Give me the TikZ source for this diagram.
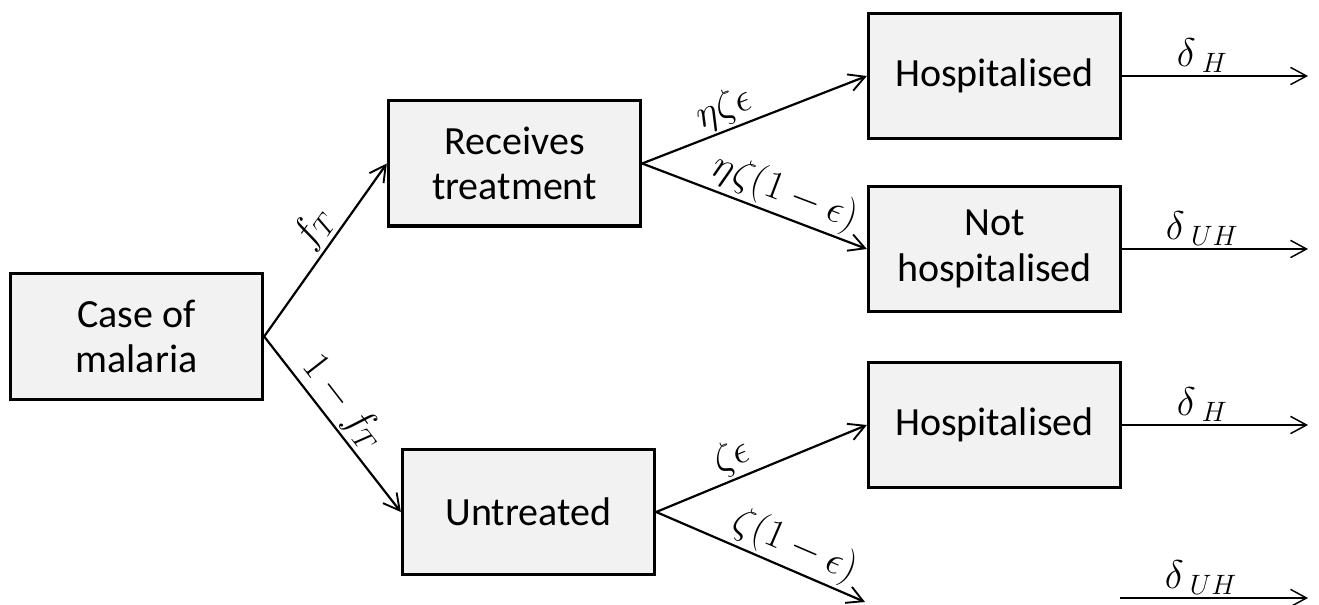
\RequirePackage{fix-cm}
\documentclass[tikz,border=0pt]{standalone}
\usepackage{fontspec}
\setmainfont{Carlito}
\usetikzlibrary{arrows.meta}
\begin{document}
\begin{tikzpicture}[x=0.75pt,y=-0.75pt,
  box/.style={draw=black, line width=2.5pt, fill=gray!10, minimum width=189pt, minimum height=94pt, align=center, inner sep=0pt, font=\fontsize{30}{34}\selectfont},
  conn/.style={line width=1.65pt, -{Straight Barb[length=12pt,width=13pt,line width=1.4pt]}},
  outa/.style={line width=1.1pt, -{Straight Barb[length=12pt,width=13pt,line width=1.1pt]}},
  lab/.style={font=\fontsize{30}{34}\selectfont, inner sep=2pt}]
\useasboundingbox (0,0) rectangle (1319,605);
\node[box] (case) at (136.5,336.5) {Case of\\malaria};
\node[box] (recv) at (514.5,163.5) {Receives\\treatment};
\node[box] (untr) at (528.5,512) {Untreated};
\node[box] (h1) at (994.5,76) {Hospitalised};
\node[box] (nh) at (994.5,249) {Not\\hospitalised};
\node[box] (h2) at (994.5,425) {Hospitalised};
\coordinate (free1) at (865,602);
\coordinate (o1) at (1308,76);
\coordinate (o2) at (1308,249);
\coordinate (o3) at (1308,425);
\coordinate (s4) at (1120,598);
\coordinate (o4) at (1308,598);
\draw[conn] (case.east) -- node[lab, sloped, above, pos=0.55] {$f_T$} (recv.west);
\draw[conn] (case.east) -- node[lab, sloped, above, pos=0.45] {$1-f_T$} (untr.west);
\draw[conn] (recv.east) -- node[lab, sloped, above, pos=0.4] {$\eta\zeta\epsilon$} (h1.west);
\draw[conn] (recv.east) -- node[lab, sloped, above, pos=0.6] {$\eta\zeta(1-\epsilon)$} (nh.west);
\draw[conn] (untr.east) -- node[lab, sloped, above, pos=0.4] {$\zeta\epsilon$} (h2.west);
\draw[conn] (untr.east) -- node[lab, sloped, above, pos=0.62] {$\zeta(1-\epsilon)$} (free1);
\draw[outa] (h1.east) -- node[lab, above, pos=0.43] {$\delta_{\;H}$} (o1);
\draw[outa] (nh.east) -- node[lab, above, pos=0.43] {$\delta_{\;UH}$} (o2);
\draw[outa] (h2.east) -- node[lab, above, pos=0.43] {$\delta_{\;H}$} (o3);
\draw[outa] (s4) -- node[lab, above, pos=0.43] {$\delta_{\;UH}$} (o4);
\end{tikzpicture}
\end{document}
